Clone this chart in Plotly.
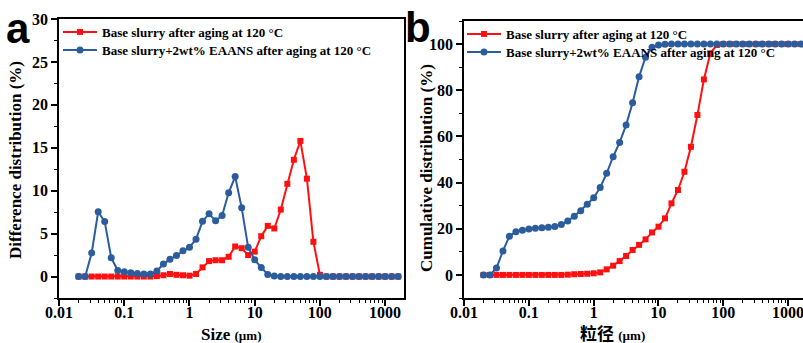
import plotly.graph_objects as go

# Particle size classes (µm), 10 per decade
sizes = [0.0200, 0.0252, 0.0317, 0.0399, 0.0502, 0.0632, 0.0796, 0.1002, 0.1262, 0.1589,
         0.2000, 0.2518, 0.3170, 0.3991, 0.5024, 0.6325, 0.7962, 1.002, 1.262, 1.589,
         2.000, 2.518, 3.170, 3.991, 5.024, 6.325, 7.962, 10.02, 12.62, 15.89,
         20.00, 25.18, 31.70, 39.91, 50.24, 63.25, 79.62, 100.2, 126.2, 158.9,
         200.0, 251.8, 317.0, 399.1, 502.4, 632.5, 796.2, 1002, 1262, 1589]

# Differential distribution (%)
diff_base = [0, 0, 0, 0, 0, 0, 0, 0, 0, 0,
             0, 0, 0.05, 0.15, 0.3, 0.2, 0.15, 0.1, 0.3, 1.07,
             1.8, 1.9, 1.9, 2.3, 3.5, 3.3, 2.5, 2.9, 4.7, 5.9,
             5.6, 7.8, 10.8, 13.6, 15.8, 11.4, 4.05, 0.2, 0, 0,
             0, 0, 0, 0, 0, 0, 0, 0, 0, 0]
diff_eaans = [0, 0, 2.75, 7.55, 6.4, 2.2, 0.7, 0.55, 0.45, 0.35,
              0.3, 0.3, 0.65, 1.45, 2.0, 2.45, 3.0, 3.4, 4.35, 6.45,
              7.3, 6.5, 7.1, 9.75, 11.65, 8.0, 3.4, 1.95, 1.05, 0.25,
              0.05, 0, 0, 0, 0, 0, 0, 0, 0, 0,
              0, 0, 0, 0, 0, 0, 0, 0, 0, 0]

# Cumulative distribution (%)
cum_base = [0, 0, 0, 0, 0, 0, 0, 0, 0, 0,
            0, 0, 0, 0.1, 0.3, 0.4, 0.5, 0.7, 1.1, 2.4,
            4.0, 6.0, 8.2, 10.8, 13.0, 15.4, 18.4, 20.9, 24.5, 31.0,
            36.8, 44.7, 55.5, 69.3, 84.7, 96.0, 99.6, 100, 100, 100,
            100, 100, 100, 100, 100, 100, 100, 100, 100, 100]
cum_eaans = [0, 0, 3.0, 10.4, 16.8, 18.7, 19.4, 19.9, 20.2, 20.4,
             20.6, 21.0, 21.8, 23.4, 25.4, 27.8, 30.6, 33.4, 37.9, 44.0,
             51.2, 57.4, 64.9, 74.6, 85.9, 94.3, 98.6, 99.6, 99.9, 100,
             100, 100, 100, 100, 100, 100, 100, 100, 100, 100,
             100, 100, 100, 100, 100, 100, 100, 100, 100, 100]

name_base = "Base slurry after aging at 120 °C"
name_eaans = "Base slurry+2wt% EAANS after aging at 120 °C"

RED = "#FF1010"
BLUE = "#2B5C9C"
SERIF = "Liberation Serif, Noto Sans CJK SC, serif"

W, H = 803, 343


def px_x(v):
    return v / W


def px_y(v):
    return 1 - v / H


fig = go.Figure()

# each legend row gets its own legend box so the rows can sit close together
for xa, ya, leg_b, leg_e, yb, ye in [("x", "y", "legend", "legend3", diff_base, diff_eaans),
                                     ("x2", "y2", "legend2", "legend4", cum_base, cum_eaans)]:
    fig.add_trace(go.Scatter(
        x=sizes, y=yb, name=name_base, xaxis=xa, yaxis=ya, legend=leg_b,
        mode="lines+markers", line=dict(color=RED, width=2),
        marker=dict(symbol="square", size=6, color=RED)))
    fig.add_trace(go.Scatter(
        x=sizes, y=ye, name=name_eaans, xaxis=xa, yaxis=ya, legend=leg_e,
        mode="lines+markers", line=dict(color=BLUE, width=2),
        marker=dict(symbol="circle", size=7, color=BLUE)))

tick_font = dict(family=SERIF, size=16, color="black", weight="bold")
title_font = dict(family=SERIF, size=17, color="black", weight="bold")
minor_tick = dict(ticks="outside", ticklen=3, tickwidth=1.2, tickcolor="black")

common_x = dict(
    type="log", tickvals=[0.01, 0.1, 1, 10, 100, 1000],
    ticktext=["0.01", "0.1", "1", "10", "100", "1000"],
    showline=True, linecolor="black", linewidth=1.8,
    ticks="outside", ticklen=6, tickwidth=1.5, tickcolor="black",
    minor=dict(minor_tick, dtick="D1"),
    showgrid=False, zeroline=False, tickfont=tick_font,
    automargin=False, ticklabeloverflow="allow", ticklabelstandoff=-7,
)
common_y = dict(
    showline=True, linecolor="black", linewidth=1.8,
    ticks="outside", ticklen=6, tickwidth=1.5, tickcolor="black",
    showgrid=False, zeroline=False, tickfont=tick_font,
    automargin=False, ticklabeloverflow="allow",
)
legend_font = dict(family=SERIF, size=13, color="black", weight="bold")


def legend_box(x_px, top_px):
    return dict(x=px_x(x_px), y=px_y(top_px), xanchor="left", yanchor="top",
                bgcolor="rgba(0,0,0,0)", font=legend_font, itemwidth=34)


fig.update_layout(
    width=W, height=H,
    margin=dict(l=0, r=0, t=0, b=0, autoexpand=False),
    paper_bgcolor="white", plot_bgcolor="white",
    xaxis=dict(common_x, domain=[px_x(59), px_x(404)], range=[-2, 3.29], mirror=True, anchor="y"),
    yaxis=dict(common_y, domain=[px_y(298), px_y(19)], range=[-2.5, 30], dtick=5, mirror=True,
               minor=dict(minor_tick, dtick=2.5), anchor="x"),
    xaxis2=dict(common_x, domain=[px_x(464), 1.0], range=[-2, 3.23], mirror=True, anchor="y2"),
    yaxis2=dict(common_y, domain=[px_y(298), px_y(21)], range=[-10, 110], dtick=20, mirror=False,
                minor=dict(minor_tick, dtick=10), anchor="x2"),
    legend=legend_box(58, 17),
    legend3=legend_box(58, 35),
    legend2=legend_box(462, 19),
    legend4=legend_box(462, 37),
    showlegend=True,
)

label_font = dict(family="Liberation Sans, Arial, sans-serif", size=42, color="black", weight="bold")
annotations = [
    dict(text="a", x=px_x(4), y=px_y(29), xanchor="left", yanchor="middle", font=label_font),
    dict(text="b", x=px_x(403), y=px_y(28), xanchor="left", yanchor="middle", font=label_font),
    dict(text="Difference distribution (%)", x=px_x(15), y=px_y(160), textangle=-90,
         xanchor="center", yanchor="middle", font=title_font),
    dict(text="Cumulative distribution (%)", x=px_x(426), y=px_y(168), textangle=-90,
         xanchor="center", yanchor="middle", font=title_font),
    dict(text="Size <span style='font-size:13px'>(µm)</span>", x=px_x(231), y=px_y(334),
         xanchor="center", yanchor="middle", font=title_font),
    dict(text="粒径 <span style='font-size:13px'>(µm)</span>", x=px_x(612), y=px_y(334),
         xanchor="center", yanchor="middle", font=title_font),
]
for a in annotations:
    a.update(xref="paper", yref="paper", showarrow=False)
fig.update_layout(annotations=annotations)

fig.write_html("out.html")
